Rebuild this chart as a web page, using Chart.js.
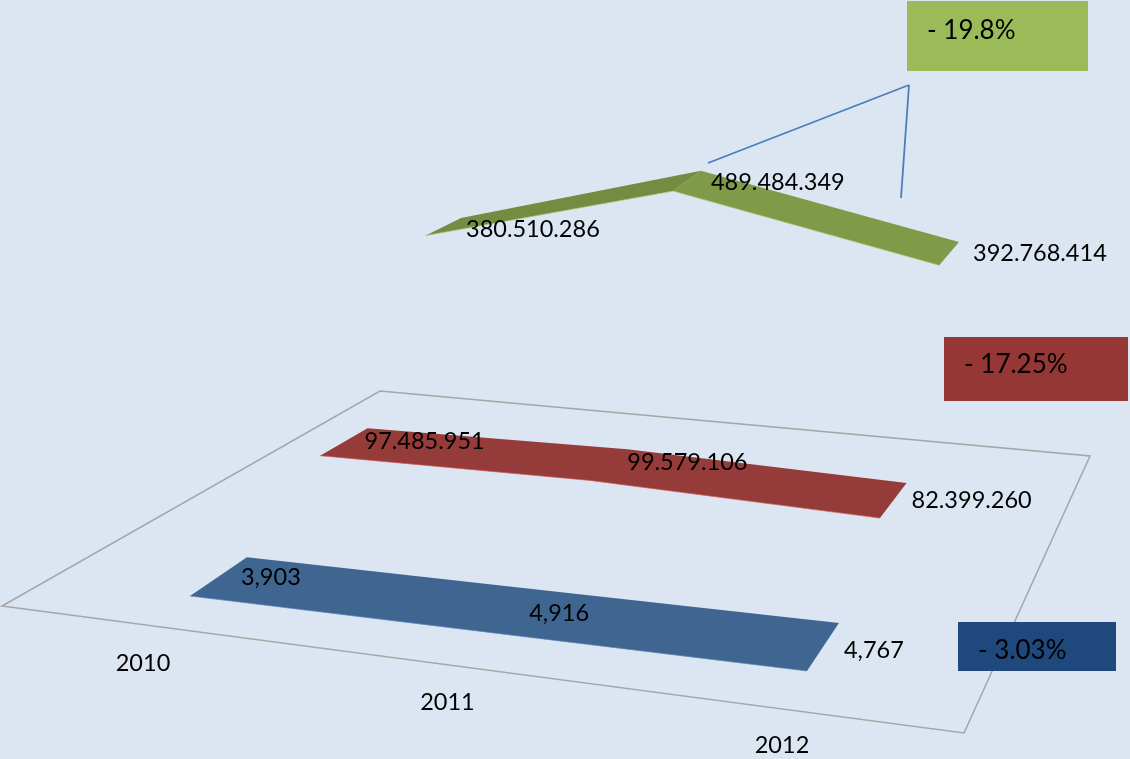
<!DOCTYPE html>
<html>
<head>
<meta charset="utf-8">
<title>3D line chart</title>
<script src="https://cdn.jsdelivr.net/npm/chart.js@4"></script>
<style>
    html, body { margin: 0; padding: 0; background: #dce6f2; overflow: hidden; }
    canvas { display: block; }
</style>
</head>
<body>
<canvas id="ribbonChart" width="1130" height="759"></canvas>
<script>
// Chart data
const categories = ['2010', '2011', '2012'];
const blueValues = [3903, 4916, 4767];
const redValues = [97485951, 99579106, 82399260];
const greenValues = [380510286, 489484349, 392768414];
const blueChange = '- 3.03%';
const redChange = '- 17.25%';
const greenChange = '- 19.8%';

const FONT = '23.5px Lato, sans-serif';
const BOX_FONT = '26px Lato, sans-serif';

// Ground plane the ribbons stand on: corners at first/last category, near/far depth
const groundNearLeft = [190, 596];
const groundFarLeft = [461, 435];
const groundNearRight = [807, 671];
const groundFarRight = [959, 466];
const groundBulge = 30;
const perspective = 0.93;

// Floor outline and axis labels
const floorCorners = [[380, 391], [1090, 456], [964, 733], [2, 606]];
const tickStart = [143, 663];
const tickEnd = [782, 745];
const tickPerspective = 0.91;

// How each series is placed and coloured
const seriesStyles = [
    {
        depth: [0, 0.21], colors: ['#3f6591', '#3f6591'], edge: 'rgba(91,134,184,0.7)', separator: ',',
        nudge: [[-6, 20], [-3, 25], [5, 27]],
        box: { x: 958, y: 622, w: 158, h: 49, color: '#1f497d', text: blueChange, textY: 29 }
    },
    {
        depth: [0.48, 0.655], colors: ['#953b39', '#953b39'], edge: 'rgba(207,95,91,0.7)', separator: '.',
        nudge: [[-3, 13], [0, 13], [5, 17]],
        box: { x: 944, y: 337, w: 184, h: 64, color: '#953735', text: redChange, textY: 28 }
    },
    {
        depth: [0.87, 1], colors: ['#748b42', '#7f9a48'], edge: 'rgba(166,196,100,0.7)', separator: '.',
        nudge: [[5, 11], [10, 12], [14, 11]],
        box: { x: 907, y: 1, w: 181, h: 70, color: '#9bbb59', text: greenChange, textY: 30 }
    }
];

const leaderLines = [[[708, 163], [909, 85]], [[909, 85], [901, 198]]];

function lerp(a, b, t) {
    return a + (b - a) * t;
}

function applyPerspective(t, amount) {
    return amount * t / (1 + (amount - 1) * t);
}

// Category position on the x scale as 0..1
function categoryPosition(xScale, index) {
    return (xScale.getPixelForValue(index) - xScale.left) / (xScale.right - xScale.left);
}

// Ground position for a category position t (0..1) at a given depth
function groundPoint(t, depth) {
    const p = applyPerspective(t, perspective);
    const near = [lerp(groundNearLeft[0], groundNearRight[0], p), lerp(groundNearLeft[1], groundNearRight[1], p)];
    const far = [lerp(groundFarLeft[0], groundFarRight[0], p), lerp(groundFarLeft[1], groundFarRight[1], p)];
    return [lerp(near[0], far[0], depth), lerp(near[1], far[1], depth) - groundBulge * depth * (1 - depth)];
}

// Project a data point: x comes from the category scale, height from the value scale
function projectPoint(chart, index, value, depth) {
    const { x, y } = chart.scales;
    const ground = groundPoint(categoryPosition(x, index), depth);
    return [ground[0], ground[1] - (y.bottom - y.getPixelForValue(value))];
}

function formatValue(value, separator) {
    return String(value).replace(/\B(?=(\d{3})+$)/g, separator);
}

function tracePath(ctx, points, closed) {
    ctx.beginPath();
    points.forEach((p, i) => {
        if (i === 0) ctx.moveTo(p[0], p[1]);
        else ctx.lineTo(p[0], p[1]);
    });
    if (closed) ctx.closePath();
}

const ribbonPlugin = {
    id: 'ribbons',
    beforeDatasetsDraw(chart) {
        const ctx = chart.ctx;
        ctx.save();

        // Floor
        ctx.strokeStyle = '#a6a6a6';
        ctx.lineWidth = 1.6;
        tracePath(ctx, floorCorners, true);
        ctx.stroke();

        // Axis labels
        ctx.font = FONT;
        ctx.fillStyle = '#000000';
        ctx.textAlign = 'center';
        ctx.textBaseline = 'middle';
        categories.forEach((label, i) => {
            const p = applyPerspective(categoryPosition(chart.scales.x, i), tickPerspective);
            ctx.fillText(label, lerp(tickStart[0], tickEnd[0], p), lerp(tickStart[1], tickEnd[1], p));
        });

        // Ribbons, one polygon per run of segments with the same colour
        chart.data.datasets.forEach((dataset, s) => {
            const style = seriesStyles[s];
            const near = dataset.data.map((v, i) => projectPoint(chart, i, v, style.depth[0]));
            const far = dataset.data.map((v, i) => projectPoint(chart, i, v, style.depth[1]));

            let start = 0;
            while (start < near.length - 1) {
                let end = start + 1;
                while (end < near.length - 1 && style.colors[end] === style.colors[start]) end++;
                const outline = near.slice(start, end + 1).concat(far.slice(start, end + 1).reverse());
                ctx.fillStyle = style.colors[start];
                tracePath(ctx, outline, true);
                ctx.fill();
                start = end;
            }
            ctx.strokeStyle = style.edge;
            ctx.lineWidth = 1;
            tracePath(ctx, near, false);
            ctx.stroke();
        });

        // Change boxes
        seriesStyles.forEach(style => {
            const box = style.box;
            ctx.fillStyle = box.color;
            ctx.fillRect(box.x, box.y, box.w, box.h);
        });

        // Leader lines
        ctx.strokeStyle = '#4a7ebb';
        ctx.lineWidth = 1.8;
        leaderLines.forEach(line => {
            tracePath(ctx, line, false);
            ctx.stroke();
        });

        // Value labels and box texts
        ctx.fillStyle = '#000000';
        ctx.textAlign = 'left';
        ctx.textBaseline = 'middle';
        chart.data.datasets.forEach((dataset, s) => {
            const style = seriesStyles[s];
            ctx.font = FONT;
            dataset.data.forEach((v, i) => {
                const far = projectPoint(chart, i, v, style.depth[1]);
                ctx.fillText(formatValue(v, style.separator), far[0] + style.nudge[i][0], far[1] + style.nudge[i][1]);
            });
            ctx.font = BOX_FONT;
            ctx.fillText(style.box.text, style.box.x + 20, style.box.y + style.box.textY);
        });

        ctx.restore();
    }
};

const ctx = document.getElementById('ribbonChart').getContext('2d');
const ribbonChart = new Chart(ctx, {
    type: 'line',
    data: {
        labels: categories,
        datasets: [
            { label: 'Blue', data: blueValues, showLine: false, pointRadius: 0 },
            { label: 'Red', data: redValues, showLine: false, pointRadius: 0 },
            { label: 'Green', data: greenValues, showLine: false, pointRadius: 0 }
        ]
    },
    options: {
        responsive: false,
        animation: false,
        layout: { padding: 0 },
        plugins: {
            legend: { display: false },
            tooltip: { enabled: false }
        },
        scales: {
            x: { display: false, offset: false },
            y: { display: false, min: 0, max: 1331000000 }
        }
    },
    plugins: [ribbonPlugin]
});
</script>
</body>
</html>
